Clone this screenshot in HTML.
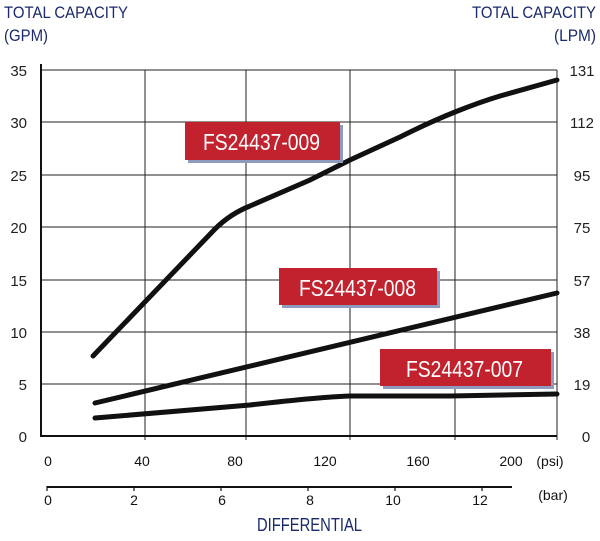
<!DOCTYPE html>
<html><head><style>
body{margin:0;background:#fff;}
svg text{font-family:"Liberation Sans",sans-serif;}
</style></head><body>
<svg width="600" height="536" viewBox="0 0 600 536" xmlns="http://www.w3.org/2000/svg">
<g font-size="17" fill="#1a2a6c">
<text x="4" y="18" textLength="124" lengthAdjust="spacingAndGlyphs">TOTAL CAPACITY</text>
<text x="4" y="41" textLength="44" lengthAdjust="spacingAndGlyphs">(GPM)</text>
<text x="472" y="18" textLength="124" lengthAdjust="spacingAndGlyphs">TOTAL CAPACITY</text>
<text x="554" y="41" textLength="42" lengthAdjust="spacingAndGlyphs">(LPM)</text>
</g>
<g stroke="#222" stroke-width="1">
<line x1="41" y1="70" x2="557" y2="70"/>
<line x1="41" y1="122" x2="557" y2="122"/>
<line x1="41" y1="175" x2="557" y2="175"/>
<line x1="41" y1="227" x2="557" y2="227"/>
<line x1="41" y1="280" x2="557" y2="280"/>
<line x1="41" y1="332" x2="557" y2="332"/>
<line x1="41" y1="384" x2="557" y2="384"/>
<line x1="145" y1="70" x2="145" y2="440"/>
<line x1="246" y1="70" x2="246" y2="440"/>
<line x1="350" y1="70" x2="350" y2="440"/>
<line x1="455" y1="70" x2="455" y2="440"/>
<line x1="557" y1="70" x2="557" y2="440"/>
</g>
<line x1="41" y1="64" x2="41" y2="437" stroke="#111" stroke-width="2"/>
<line x1="41" y1="436" x2="557" y2="436" stroke="#111" stroke-width="2"/>
<line x1="47" y1="487" x2="512" y2="487" stroke="#111" stroke-width="2"/>
<g stroke="#111" stroke-width="1.2">
<line x1="47" y1="486" x2="47" y2="491"/><line x1="134" y1="486" x2="134" y2="491"/><line x1="221" y1="486" x2="221" y2="491"/><line x1="308" y1="486" x2="308" y2="491"/><line x1="395" y1="486" x2="395" y2="491"/><line x1="482" y1="486" x2="482" y2="491"/>
</g>
<g font-size="15" fill="#222" text-anchor="end">
<text x="27" y="76">35</text><text x="27" y="128">30</text><text x="27" y="181">25</text><text x="27" y="233">20</text><text x="27" y="286">15</text><text x="27" y="338">10</text><text x="27" y="390">5</text><text x="27" y="442">0</text>
</g>
<g font-size="15" fill="#222" text-anchor="middle">
<text x="582" y="76">131</text><text x="582" y="128">112</text><text x="582" y="181">95</text><text x="582" y="233">75</text><text x="582" y="286">57</text><text x="582" y="338">38</text><text x="582" y="390">19</text><text x="586" y="442">0</text>
</g>
<g font-size="14" fill="#111" text-anchor="middle">
<text x="48" y="466">0</text><text x="142" y="466">40</text><text x="235" y="466">80</text><text x="325" y="466">120</text><text x="418" y="466">160</text><text x="511" y="466">200</text><text x="550" y="466">(psi)</text>
<text x="48" y="505">0</text><text x="134" y="505">2</text><text x="222" y="505">6</text><text x="310" y="505">8</text><text x="393" y="505">10</text><text x="480" y="505">12</text><text x="553" y="500">(bar)</text>
</g>
<text x="257" y="531" font-size="18" fill="#1a2a6c" textLength="105" lengthAdjust="spacingAndGlyphs">DIFFERENTIAL</text>
<g fill="none" stroke="#111" stroke-width="5" stroke-linecap="round">
<path d="M93,356 L215,229 Q230,214 250,206 L310,180 Q330,170 350,160 L400,137 Q430,122 455,112 Q480,102 500,96 L557,80"/>
<path d="M95,403 L557,293"/>
<path d="M95,418 L250,405 Q320,397 350,396 L450,396 L557,394"/>
</g>
<g font-size="23" fill="#fff">
<rect x="188" y="125" width="155" height="38" fill="#8e9bbd"/>
<rect x="185" y="122" width="155" height="38" fill="#c1222e"/>
<text x="203" y="150" textLength="117" lengthAdjust="spacingAndGlyphs">FS24437-009</text>
<rect x="282" y="271" width="158" height="37" fill="#8e9bbd"/>
<rect x="279" y="268" width="158" height="37" fill="#c1222e"/>
<text x="299" y="296" textLength="117" lengthAdjust="spacingAndGlyphs">FS24437-008</text>
<rect x="383" y="352" width="171" height="37" fill="#8e9bbd"/>
<rect x="380" y="349" width="171" height="37" fill="#c1222e"/>
<text x="406" y="377" textLength="117" lengthAdjust="spacingAndGlyphs">FS24437-007</text>
</g>
</svg>
</body></html>
